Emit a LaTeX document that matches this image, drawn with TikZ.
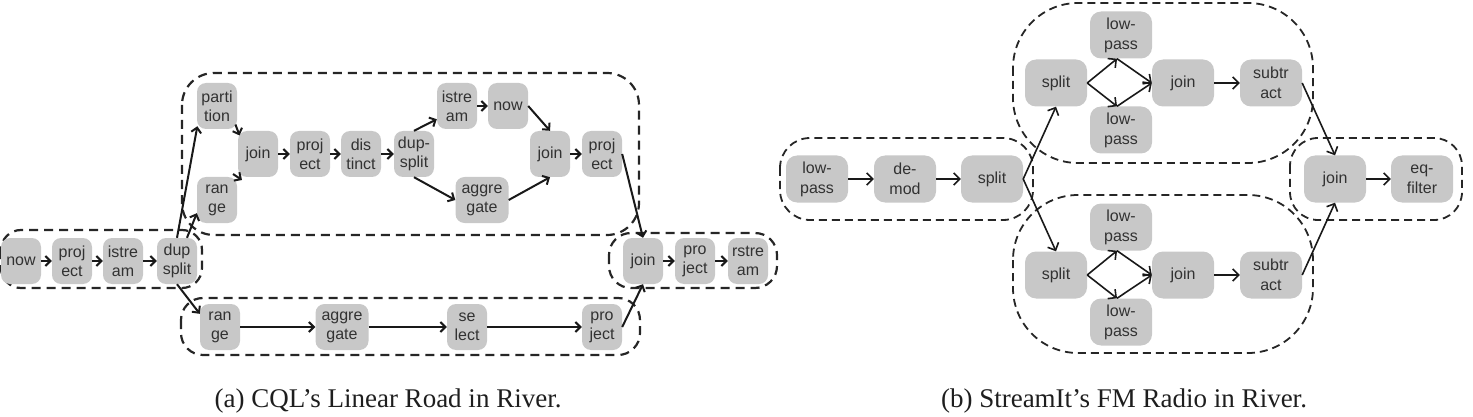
\documentclass[tikz,border=0pt]{standalone}
\usepackage{fontspec}
\setmainfont{Liberation Serif}
\newfontfamily\nodefont{Liberation Sans}
\usetikzlibrary{arrows.meta,calc}
\definecolor{ndfill}{RGB}{200,200,200}
\definecolor{ndtext}{RGB}{50,50,50}
\definecolor{capcol}{RGB}{30,30,30}
\begin{document}
\begin{tikzpicture}[x=1pt,y=-1pt,
  opa/.style={fill=ndfill,draw=none,rounded corners=9pt,minimum width=40pt,minimum height=46pt,inner sep=0pt,align=center,text=ndtext,font=\nodefont\fontsize{16}{19}\selectfont},
  opaw/.style={opa,minimum width=53pt},
  opb/.style={opa,rounded corners=11pt,minimum width=62pt,minimum height=47pt,font=\nodefont\fontsize{16}{20}\selectfont},
  arra/.style={draw=black!90,line width=2pt,-{Straight Barb[length=5pt,width=10pt]}},
  arrb/.style={draw=black!90,line width=1.6pt,-{Straight Barb[length=6pt,width=12pt]}},
  grpa/.style={draw=black!85,line width=2.2pt,dash pattern=on 9pt off 6pt},
  grpb/.style={draw=black!85,line width=1.8pt,dash pattern=on 8pt off 5pt},
  captxt/.style={text=capcol,font=\fontsize{27}{32}\selectfont,anchor=base}]
\useasboundingbox (0,0) rectangle (1473,417);

% ---------- (a) groups ----------
\draw[grpa,rounded corners=20pt] (1,230) rectangle (202,288);
\draw[grpa,rounded corners=32pt] (182,73) rectangle (639,235);
\draw[grpa,rounded corners=22pt] (181,298) rectangle (640,355);
\draw[grpa,rounded corners=22pt] (609,233) rectangle (777,288);

% ---------- (a) nodes ----------
\node[opa] (nowA) at (21,261) {now};
\node[opa] (projA) at (72,261) {proj\\ect};
\node[opa] (istrA) at (123,261) {istre\\am};
\node[opa] (dupA) at (177,261) {dup\\split};

\node[opa] (part) at (217,106) {parti\\tion};
\node[opa] (rangeU) at (217,200) {ran\\ge};
\node[opa] (joinU) at (258,154) {join};
\node[opa] (projU) at (310,154) {proj\\ect};
\node[opa] (dist) at (361,154) {dis\\tinct};
\node[opa] (dupU) at (414,154) {dup-\\split};
\node[opa] (istrU) at (457,106) {istre\\am};
\node[opa] (nowU) at (508,106) {now};
\node[opaw] (aggU) at (482,200) {aggre\\gate};
\node[opa] (joinU2) at (550,154) {join};
\node[opa] (projU2) at (602,154) {proj\\ect};

\node[opa] (rangeL) at (220,327) {ran\\ge};
\node[opaw] (aggL) at (342,327) {aggre\\gate};
\node[opa] (selL) at (467,327) {se\\lect};
\node[opa] (projL) at (602,327) {pro\\ject};

\node[opa] (joinC) at (643,261) {join};
\node[opa] (projC) at (695,261) {pro\\ject};
\node[opa] (rstr) at (748,261) {rstre\\am};

% ---------- (a) arrows ----------
\draw[arra] (nowA) -- (projA);
\draw[arra] (projA) -- (istrA);
\draw[arra] (istrA) -- (dupA);
\draw[arra,shorten >=-3pt] (dupA.north) -- (part.south west);
\draw[arra] ($(dupA.north)+(10,0)$) -- ($(rangeU.south west)+(0,-10)$);
\draw[arra] (dupA.south) -- ($(rangeL.north west)+(0,10)$);
\draw[arra,shorten <=-5pt,shorten >=-5pt] (part.south east) -- (joinU.north west);
\draw[arra,shorten <=-5pt,shorten >=-5pt] (rangeU.north east) -- (joinU.south west);
\draw[arra] (joinU) -- (projU);
\draw[arra] (projU) -- (dist);
\draw[arra] (dist) -- (dupU);
\draw[arra] (dupU.north) -- ($(istrU.south west)+(0,-10)$);
\draw[arra] (istrU) -- (nowU);
\draw[arra] (nowU.east) -- (joinU2.north);
\draw[arra] (dupU.south) -- (aggU.west);
\draw[arra] (aggU.east) -- (joinU2.south);
\draw[arra] (joinU2) -- (projU2);
\draw[arra] (projU2.east) -- (joinC.north);
\draw[arra] (rangeL) -- (aggL);
\draw[arra] (aggL) -- (selL);
\draw[arra] (selL) -- (projL);
\draw[arra] (projL.east) -- (joinC.south);
\draw[arra] (joinC) -- (projC);
\draw[arra] (projC) -- (rstr);

% ---------- (b) groups ----------
\draw[grpb,rounded corners=30pt] (780,138) rectangle (1033,220);
\draw[grpb,rounded corners=65pt] (1013,3) rectangle (1313,163);
\draw[grpb,rounded corners=65pt] (1013,195) rectangle (1313,353);
\draw[grpb,rounded corners=28pt] (1290,138) rectangle (1462,220);

% ---------- (b) nodes ----------
\node[opb] (lpA) at (817,179) {low-\\pass};
\node[opb] (demod) at (905,179) {de-\\mod};
\node[opb] (splitA) at (992,179) {split};

\node[opb] (splitU) at (1056,83) {split};
\node[opb] (lpU1) at (1121,35) {low-\\pass};
\node[opb] (lpU2) at (1121,130) {low-\\pass};
\node[opb] (joinUB) at (1183,83) {join};
\node[opb] (subU) at (1271,83) {subtr\\act};

\node[opb] (splitD) at (1056,275) {split};
\node[opb] (lpD1) at (1121,227) {low-\\pass};
\node[opb] (lpD2) at (1121,322) {low-\\pass};
\node[opb] (joinDB) at (1183,275) {join};
\node[opb] (subD) at (1271,275) {subtr\\act};

\node[opb] (joinR) at (1335,179) {join};
\node[opb] (eqf) at (1422,179) {eq-\\filter};

% ---------- (b) arrows ----------
\draw[arrb] (lpA) -- (demod);
\draw[arrb] (demod) -- (splitA);
\draw[arrb] (splitA.east) -- (splitU.south);
\draw[arrb] (splitA.east) -- (splitD.north);
\draw[arrb] (splitU.east) -- ($(lpU1.south)+(-4,0)$);
\draw[arrb] (splitU.east) -- ($(lpU2.north)+(-4,0)$);
\draw[arrb] ($(lpU1.south)+(-4,0)$) -- (joinUB.west);
\draw[arrb] ($(lpU2.north)+(-4,0)$) -- (joinUB.west);
\draw[arrb] (joinUB) -- (subU);
\draw[arrb] (splitD.east) -- ($(lpD1.south)+(-4,0)$);
\draw[arrb] (splitD.east) -- ($(lpD2.north)+(-4,0)$);
\draw[arrb] ($(lpD1.south)+(-4,0)$) -- (joinDB.west);
\draw[arrb] ($(lpD2.north)+(-4,0)$) -- (joinDB.west);
\draw[arrb] (joinDB) -- (subD);
\draw[arrb] (subU.east) -- (joinR.north);
\draw[arrb] (subD.east) -- (joinR.south);
\draw[arrb] (joinR) -- (eqf);

% ---------- captions ----------
\node[captxt] (capa) at (388,407) {(a) CQL’s Linear Road in River.};
\node[captxt] (capb) at (1124,407) {(b) StreamIt’s FM Radio in River.};
\end{tikzpicture}
\end{document}
